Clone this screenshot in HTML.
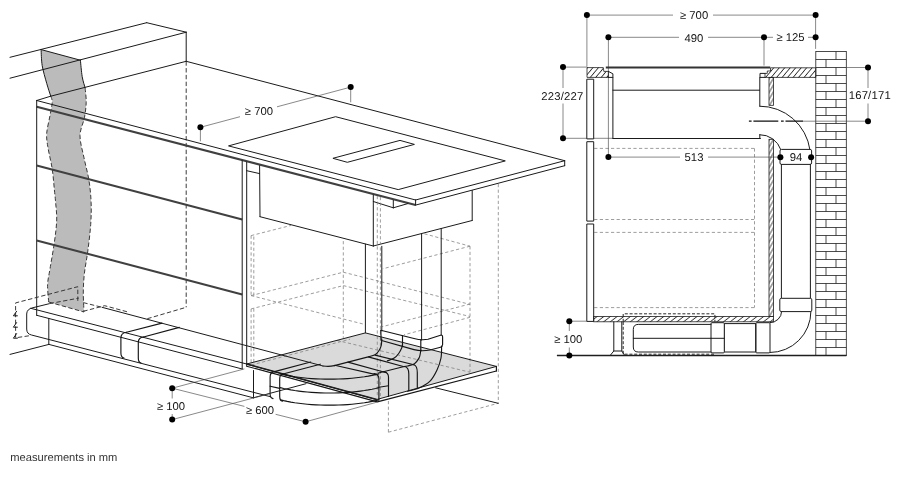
<!DOCTYPE html>
<html><head><meta charset="utf-8"><title>Installation dimensions</title>
<style>
html,body{margin:0;padding:0;background:#fff;}
svg{display:block;font-family:"Liberation Sans",sans-serif;text-rendering:geometricPrecision;}
.k{fill:none;stroke:#1a1a1a;stroke-width:1;stroke-linecap:round;stroke-linejoin:round}
.kw{fill:#fff;stroke:#1a1a1a;stroke-width:1;stroke-linejoin:round}
.kb{fill:none;stroke:#151515;stroke-width:1.15;stroke-linecap:round;stroke-linejoin:round}
.kt{fill:none;stroke:#404040;stroke-width:2.05;stroke-linecap:butt}
.kf{fill:none;stroke:#1e1e1e;stroke-width:1.5}
.g{fill:none;stroke:#484848;stroke-width:.65}
.d{fill:none;stroke:#303030;stroke-width:.95;stroke-dasharray:4.4 2.4}
.dk{fill:none;stroke:#2a2a2a;stroke-width:1;stroke-dasharray:3 1.8}
.dg{fill:none;stroke:#7c7c7c;stroke-width:.75;stroke-dasharray:3.2 2.4}
.wall{fill:#bbbbbb;stroke:none}
.plate{fill:#dadada;stroke:none}
.dot{fill:#000}
.t{fill:#151515}
.h{fill:url(#hatch);stroke:#1e1e1e;stroke-width:.8}
.hb{fill:url(#hatch3);stroke:#1e1e1e;stroke-width:.8}
.hs{fill:url(#hatch2);stroke:#1e1e1e;stroke-width:.8}
.glass{fill:#333;stroke:none}
.cl{fill:none;stroke:#111;stroke-width:1.3;stroke-dasharray:2.7 1.8 24.9 2.7}
.br{fill:none;stroke:#1e1e1e;stroke-width:.8}
</style></head>
<body>
<svg width="900" height="496" viewBox="0 0 900 496" style="will-change:transform">
<defs>
<pattern id="hatch" width="4.2" height="4.2" patternUnits="userSpaceOnUse" patternTransform="rotate(40)"><line x1="2.1" y1="-1" x2="2.1" y2="5.2" stroke="#222" stroke-width=".8"/></pattern>
<pattern id="hatch2" width="3.4" height="3.4" patternUnits="userSpaceOnUse" patternTransform="rotate(30)"><line x1="1.7" y1="-1" x2="1.7" y2="4.4" stroke="#222" stroke-width=".75"/></pattern>
<pattern id="hatch3" width="4.1" height="4.1" patternUnits="userSpaceOnUse" patternTransform="rotate(52)"><line x1="2" y1="-1" x2="2" y2="5.1" stroke="#222" stroke-width=".8"/></pattern>
</defs>
<path class="wall" d="M41.1,49.6 C41.28,52.27 41.27,59.98 42.2,65.6 C43.13,71.22 45.28,78.23 46.7,83.3 C48.12,88.37 49.78,92.85 50.7,96 C51.62,99.15 52.32,98.93 52.2,102.2 C52.08,105.47 50.92,110.42 50,115.6 C49.08,120.78 47.07,128.12 46.7,133.3 C46.33,138.48 46.88,140.77 47.8,146.7 C48.72,152.63 51.1,161.68 52.2,168.9 C53.3,176.12 53.83,184.45 54.4,190 C54.97,195.55 55.22,197.2 55.6,202.2 C55.98,207.2 56.9,213.33 56.7,220 C56.5,226.67 55.52,234.05 54.4,242.2 C53.28,250.35 51.13,261.87 50,268.9 C48.87,275.93 47.82,278.88 47.6,284.4 C47.38,289.92 48.52,299.07 48.7,302 L84,312 L84,312 C83.88,308.67 83.23,298.45 83.3,292 C83.37,285.55 83.65,280.12 84.4,273.3 C85.15,266.48 86.75,259.25 87.8,251.1 C88.85,242.95 90.15,232.55 90.7,224.4 C91.25,216.25 91.4,209.6 91.1,202.2 C90.8,194.8 90.08,187.4 88.9,180 C87.72,172.6 85.48,165.2 84,157.8 C82.52,150.4 79.93,142.27 80,135.6 C80.07,128.93 83.37,123.37 84.4,117.8 C85.43,112.23 86.08,107.2 86.2,102.2 C86.32,97.2 85.77,92.05 85.1,87.8 C84.43,83.55 82.98,81.3 82.2,76.7 C81.42,72.1 80.7,62.95 80.4,60.2 Z"/>
<polygon class="plate" points="246.7,364 365.4,332.9 496.4,366.4 376.8,399.5"/>
<line class="k" x1="10" y1="57.3" x2="146.7" y2="22.7"/>
<line class="k" x1="146.7" y1="22.7" x2="186.2" y2="32.2"/>
<line class="k" x1="10" y1="78.2" x2="186.2" y2="32.2"/>
<line class="k" x1="186.2" y1="32.2" x2="186.2" y2="61.3"/>
<line class="k" x1="186.2" y1="61.3" x2="50.7" y2="96.2"/>
<line class="k" x1="41.1" y1="49.6" x2="80.4" y2="60.2"/>
<path class="k" d="M41.1,49.6 C41.28,52.27 41.27,59.98 42.2,65.6 C43.13,71.22 45.28,78.23 46.7,83.3 C48.12,88.37 50.03,93.88 50.7,96"/>
<path class="k" d="M80.4,60.2 C80.7,62.95 81.42,72.1 82.2,76.7 C82.98,81.3 84.62,85.95 85.1,87.8"/>
<path class="d" d="M50.7,96 C50.95,97.03 52.32,98.93 52.2,102.2 C52.08,105.47 50.92,110.42 50,115.6 C49.08,120.78 47.07,128.12 46.7,133.3 C46.33,138.48 46.88,140.77 47.8,146.7 C48.72,152.63 51.1,161.68 52.2,168.9 C53.3,176.12 53.83,184.45 54.4,190 C54.97,195.55 55.22,197.2 55.6,202.2 C55.98,207.2 56.9,213.33 56.7,220 C56.5,226.67 55.52,234.05 54.4,242.2 C53.28,250.35 51.13,261.87 50,268.9 C48.87,275.93 47.82,278.88 47.6,284.4 C47.38,289.92 48.52,299.07 48.7,302"/>
<path class="d" d="M85.1,87.8 C85.28,90.2 86.32,97.2 86.2,102.2 C86.08,107.2 85.43,112.23 84.4,117.8 C83.37,123.37 80.07,128.93 80,135.6 C79.93,142.27 82.52,150.4 84,157.8 C85.48,165.2 87.72,172.6 88.9,180 C90.08,187.4 90.8,194.8 91.1,202.2 C91.4,209.6 91.25,216.25 90.7,224.4 C90.15,232.55 88.85,242.95 87.8,251.1 C86.75,259.25 85.15,266.48 84.4,273.3 C83.65,280.12 83.37,285.55 83.3,292 C83.23,298.45 83.88,308.67 84,312"/>
<line class="d" x1="48.7" y1="302" x2="84" y2="312"/>
<line class="d" x1="186.2" y1="61.3" x2="186.2" y2="307.3"/>
<line class="k" x1="36.7" y1="100.5" x2="50.7" y2="96.2"/>
<line class="k" x1="186.2" y1="61.3" x2="564.7" y2="160.7"/>
<line class="k" x1="564.7" y1="160.7" x2="415.6" y2="200"/>
<line class="k" x1="415.6" y1="200" x2="36.7" y2="100.5"/>
<line class="kt" x1="36.7" y1="106.7" x2="415.6" y2="205.1"/>
<line class="k" x1="415.6" y1="205.1" x2="564.7" y2="165.7"/>
<line class="k" x1="564.7" y1="160.7" x2="564.7" y2="165.7"/>
<line class="k" x1="415.6" y1="200" x2="415.6" y2="205.1"/>
<line class="k" x1="36.7" y1="100.5" x2="36.7" y2="315.3"/>
<line class="kt" x1="36.7" y1="165.6" x2="242.2" y2="219.6"/>
<line class="kt" x1="36.7" y1="240.4" x2="242.2" y2="294.4"/>
<line class="k" x1="242.2" y1="160.7" x2="242.2" y2="368.7"/>
<line class="k" x1="246.7" y1="162" x2="246.7" y2="366"/>
<line class="k" x1="36.7" y1="315.3" x2="242.2" y2="369"/>
<polygon class="k" points="228.9,145.8 335.6,116.7 505.3,160.9 398.6,189.5"/>
<polygon class="k" points="333.3,158.2 400,140.4 414.4,144.4 347.7,162.2"/>
<line class="g" x1="200.4" y1="127.3" x2="240" y2="116.7"/>
<line class="g" x1="277" y1="106.8" x2="350.7" y2="87.1"/>
<line class="g" x1="200.4" y1="127.3" x2="200.4" y2="141.3"/>
<line class="g" x1="350.7" y1="87.1" x2="350.7" y2="102.3"/>
<circle class="dot" cx="200.4" cy="127.3" r="3"/>
<circle class="dot" cx="350.7" cy="87.1" r="3"/>
<text class="t" x="258.9" y="115.15" font-size="11.3" text-anchor="middle" >≥ 700</text>
<line class="k" x1="259.6" y1="165.6" x2="260" y2="216.7"/>
<line class="k" x1="260" y1="216.7" x2="373.3" y2="246"/>
<line class="k" x1="373.3" y1="195" x2="373.3" y2="246"/>
<line class="k" x1="373.3" y1="246" x2="472.2" y2="220.5"/>
<line class="k" x1="472.2" y1="190.6" x2="472.2" y2="220.5"/>
<line class="k" x1="246.7" y1="170.7" x2="259.6" y2="173.6"/>
<line class="k" x1="373.3" y1="201.5" x2="393.3" y2="207.8"/>
<line class="k" x1="393.3" y1="200.3" x2="393.3" y2="207.8"/>
<line class="k" x1="393.3" y1="207.8" x2="407.8" y2="203.6"/>
<line class="dg" x1="251.1" y1="235.6" x2="251.1" y2="295.6"/>
<line class="dg" x1="253.8" y1="236.5" x2="253.8" y2="296"/>
<line class="dg" x1="251.1" y1="308.9" x2="251.1" y2="363"/>
<line class="dg" x1="253.8" y1="308.5" x2="253.8" y2="363"/>
<line class="dg" x1="251.1" y1="235.6" x2="291.1" y2="225.4"/>
<line class="dg" x1="251.1" y1="295.6" x2="343.3" y2="272.2"/>
<line class="dg" x1="343.3" y1="272.2" x2="470" y2="304.4"/>
<line class="dg" x1="343.3" y1="241.1" x2="343.3" y2="337.8"/>
<line class="dg" x1="251.1" y1="308.9" x2="343.3" y2="285.6"/>
<line class="dg" x1="343.3" y1="285.6" x2="470" y2="316.5"/>
<line class="dg" x1="251.1" y1="295.6" x2="365" y2="324.5"/>
<line class="dg" x1="470" y1="304" x2="382.2" y2="326.7"/>
<line class="dg" x1="470" y1="317.3" x2="404" y2="334.8"/>
<line class="dg" x1="424.4" y1="233.8" x2="470" y2="246.2"/>
<line class="dg" x1="470" y1="246.2" x2="470" y2="372.2"/>
<line class="dg" x1="470" y1="246.2" x2="382.7" y2="268.8"/>
<line class="dg" x1="498.3" y1="184" x2="498.3" y2="403.3"/>
<line class="dg" x1="388.4" y1="401" x2="388.4" y2="432.2"/>
<line class="dg" x1="388.4" y1="432.2" x2="498.3" y2="403.3"/>
<line class="dg" x1="337" y1="340.4" x2="470" y2="372.2"/>
<line class="dg" x1="251.3" y1="365" x2="350" y2="339.2"/>
<line class="dg" x1="377.3" y1="196" x2="377.3" y2="396"/>
<line class="dg" x1="380.4" y1="197" x2="380.4" y2="396"/>
<line class="k" x1="365.4" y1="244.2" x2="365.4" y2="332.9"/>
<line class="k" x1="381.8" y1="246.3" x2="381.8" y2="331"/>
<line class="k" x1="421.6" y1="233.8" x2="421.6" y2="340"/>
<line class="k" x1="441.2" y1="228.7" x2="441.2" y2="334.7"/>
<path class="kb" d="M380.8,330.2 L414,338.5 Q421,340.4 428,339.3 L440.5,335.3 Q442.6,334.7 442.6,337 V344.6 Q442.6,346.6 440.5,347.2 L430,350 Q421,351.6 414,349.6 L381.6,340.5"/>
<line class="kb" x1="380.8" y1="330.2" x2="381.2" y2="340.4"/>
<line class="kb" x1="402.5" y1="335.7" x2="402.5" y2="346.3"/>
<line class="kb" x1="420.8" y1="340.2" x2="420.8" y2="351"/>
<polygon class="k" points="246.7,364 365.4,332.9 496.4,366.4 376.8,399.5"/>
<line class="kf" x1="246.7" y1="364" x2="376.8" y2="399.5"/>
<polyline class="kb" points="246.7,366.2 377.3,401.9 496.4,371"/>
<line class="kb" x1="496.4" y1="366.4" x2="496.4" y2="371"/>
<line class="k" x1="435.6" y1="387.8" x2="498.2" y2="403.3"/>
<path class="kb" d="M381.8,339.1 C381.7,340.18 381.68,343.67 381.2,345.6 C380.72,347.53 379.93,349.18 378.9,350.7 C377.87,352.22 376.78,353.67 375,354.7 C373.22,355.73 369.33,356.53 368.2,356.9 L334.4,365.6"/>
<path class="kb" d="M402.3,345 C402.23,345.42 402.5,346.08 401.9,347.5 C401.3,348.92 399.98,351.73 398.7,353.5 C397.42,355.27 396.08,356.87 394.2,358.1 C392.32,359.33 388.53,360.43 387.4,360.9"/>
<path class="kb" d="M420.8,350 C420.7,350.67 420.5,352.65 420.2,354 C419.9,355.35 419.95,356.48 419,358.1 C418.05,359.72 416.38,362.38 414.5,363.7 C412.62,365.02 409.58,365.5 407.7,366 C405.82,366.5 403.95,366.58 403.2,366.7 L378.4,373"/>
<path class="kb" d="M441.6,346.2 C441.5,348.17 441.77,354.03 441,358 C440.23,361.97 438.83,366.13 437,370 C435.17,373.87 433,378.2 430,381.2 C427,384.2 422.72,386.32 419,388 C415.28,389.68 409.58,390.75 407.7,391.3"/>
<line class="kb" x1="368.2" y1="356.9" x2="403.2" y2="366.5"/>
<line class="kb" x1="334.7" y1="365.3" x2="376" y2="374.6"/>
<line class="kb" x1="347.9" y1="362.1" x2="386.5" y2="372.7"/>
<line class="kb" x1="375.1" y1="355.1" x2="413.9" y2="364.8"/>
<path class="kb" d="M374,373.6 Q378.9,374 378.9,379 V400"/>
<path class="kb" d="M383.5,371.6 Q388.5,372.3 388.5,377 V396.5"/>
<line class="kb" x1="378.9" y1="387.3" x2="388.5" y2="385.8"/>
<path class="kb" d="M404.9,366.5 Q408.8,367.5 408.8,373.9 V390.5"/>
<path class="kb" d="M413.9,364.8 Q417.3,365.8 417.3,372.7 V388.5"/>
<polyline class="kb" points="378.85,373.83 375.52,374.65 372,375.41 368.3,376.11 364.43,376.74 360.41,377.3 356.25,377.8 351.99,378.22 347.63,378.57 343.19,378.84 338.69,379.03 334.16,379.15 329.6,379.19 325.04,379.15 320.51,379.03 316.01,378.84 311.57,378.57 307.21,378.22 302.95,377.8 298.79,377.3 294.77,376.74 290.9,376.11 287.2,375.41 283.68,374.65 280.35,373.83"/>
<polyline class="kb" points="378.85,387.63 375.52,388.45 372,389.21 368.3,389.91 364.43,390.54 360.41,391.1 356.25,391.6 351.99,392.02 347.63,392.37 343.19,392.64 338.69,392.83 334.16,392.95 329.6,392.99 325.04,392.95 320.51,392.83 316.01,392.64 311.57,392.37 307.21,392.02 302.95,391.6 298.79,391.1 294.77,390.54 290.9,389.91 287.2,389.21 283.68,388.45 280.35,387.63"/>
<polyline class="kb" points="378.85,399.83 375.52,400.65 372,401.41 368.3,402.11 364.43,402.74 360.41,403.3 356.25,403.8 351.99,404.22 347.63,404.57 343.19,404.84 338.69,405.03 334.16,405.15 329.6,405.19 325.04,405.15 320.51,405.03 316.01,404.84 311.57,404.57 307.21,404.22 302.95,403.8 298.79,403.3 294.77,402.74 290.9,402.11 287.2,401.41 283.68,400.65 280.35,399.83"/>
<path class="kb" d="M323,366 L326,366.3 Q330.2,366.6 334.4,365.6"/>
<path class="kb" d="M274.5,371.6 Q270.1,372 270.1,377 V394 Q270.1,398 273,398.6"/>
<path class="kb" d="M283,374 Q279.7,374.3 279.7,379 V396.5 Q279.7,400.6 282.5,401.2"/>
<line class="kb" x1="270.1" y1="386.2" x2="279.7" y2="388.4"/>
<line class="kb" x1="274.5" y1="371.6" x2="310.7" y2="362"/>
<line class="kb" x1="283" y1="374" x2="320.3" y2="364.2"/>
<line class="k" x1="30.7" y1="308.3" x2="246.7" y2="364"/>
<line class="k" x1="102" y1="307.3" x2="323" y2="366"/>
<path class="k" d="M49.3,303.7 L33,307.7 Q26.7,309 26.7,314 V329 Q26.7,334 31.5,335 L270,396.6"/>
<line class="k" x1="48.8" y1="318.5" x2="48.8" y2="344.4"/>
<path class="kb" d="M126.5,332.3 Q120.9,333 120.9,338 V353 Q120.9,357.3 124,358"/>
<path class="kb" d="M143.5,337 Q138.3,337.5 138.3,342.5 V358 Q138.3,362.5 141,363"/>
<line class="kb" x1="126.5" y1="332.3" x2="162" y2="323.1"/>
<line class="kb" x1="143.5" y1="337" x2="179.3" y2="327.4"/>
<line class="k" x1="10" y1="354.4" x2="48.9" y2="344.4"/>
<line class="k" x1="48.9" y1="344.4" x2="253.3" y2="397.8"/>
<line class="k" x1="253.5" y1="370.5" x2="253.5" y2="397.8"/>
<line class="k" x1="253.3" y1="397.8" x2="306" y2="383.7"/>
<polyline class="d" points="28.9,335.8 15.6,337.8 15.6,302.9 77.8,286.7 77.8,303.3"/>
<polyline class="d" points="83.3,311.3 104.7,305.7 128,312"/>
<line class="d" x1="147.3" y1="318.7" x2="186.2" y2="307.3"/>
<path class="k" d="M16.6,311.3 L13.4,315.8 L17.4,315.8 M16.6,322.6 L13.4,327.2 L17.4,327.2 M16.6,333.6 L13.4,338.2 L17.4,338.2"/>
<line class="d" x1="49.7" y1="303.6" x2="78.8" y2="298.1"/>
<line class="d" x1="83.3" y1="302.6" x2="102" y2="307.3"/>
<line class="g" x1="172.2" y1="388.2" x2="244.4" y2="368.9"/>
<line class="g" x1="172.2" y1="388.2" x2="244.4" y2="406.4"/>
<line class="g" x1="275.6" y1="414.3" x2="305.6" y2="421.8"/>
<line class="g" x1="172.2" y1="419.6" x2="271.1" y2="393.3"/>
<line class="g" x1="305.6" y1="421.8" x2="376.8" y2="402.2"/>
<line class="g" x1="172.2" y1="388.2" x2="172.2" y2="398.5"/>
<line class="g" x1="172.2" y1="414" x2="172.2" y2="419.6"/>
<circle class="dot" cx="172.2" cy="388.2" r="3"/>
<circle class="dot" cx="172.2" cy="419.6" r="3"/>
<circle class="dot" cx="305.6" cy="421.8" r="3"/>
<text class="t" x="171" y="410.05" font-size="11.3" text-anchor="middle" >≥ 100</text>
<text class="t" x="260" y="414.25" font-size="11.3" text-anchor="middle" >≥ 600</text>
<text x="10.3" y="461.2" font-size="11.15" fill="#333">measurements in mm</text>
<rect class="br" x="815.8" y="51.5" width="30.5" height="304.1"/>
<line class="br" x1="836" y1="51.5" x2="836" y2="59.5"/>
<line class="br" x1="815.8" y1="59.5" x2="846.3" y2="59.5"/>
<line class="br" x1="826" y1="59.5" x2="826" y2="67.5"/>
<line class="br" x1="815.8" y1="67.5" x2="846.3" y2="67.5"/>
<line class="br" x1="836" y1="67.5" x2="836" y2="75.5"/>
<line class="br" x1="815.8" y1="75.5" x2="846.3" y2="75.5"/>
<line class="br" x1="826" y1="75.5" x2="826" y2="83.5"/>
<line class="br" x1="815.8" y1="83.5" x2="846.3" y2="83.5"/>
<line class="br" x1="836" y1="83.5" x2="836" y2="91.5"/>
<line class="br" x1="815.8" y1="91.5" x2="846.3" y2="91.5"/>
<line class="br" x1="826" y1="91.5" x2="826" y2="99.5"/>
<line class="br" x1="815.8" y1="99.5" x2="846.3" y2="99.5"/>
<line class="br" x1="836" y1="99.5" x2="836" y2="107.5"/>
<line class="br" x1="815.8" y1="107.5" x2="846.3" y2="107.5"/>
<line class="br" x1="826" y1="107.5" x2="826" y2="115.5"/>
<line class="br" x1="815.8" y1="115.5" x2="846.3" y2="115.5"/>
<line class="br" x1="836" y1="115.5" x2="836" y2="123.5"/>
<line class="br" x1="815.8" y1="123.5" x2="846.3" y2="123.5"/>
<line class="br" x1="826" y1="123.5" x2="826" y2="131.5"/>
<line class="br" x1="815.8" y1="131.5" x2="846.3" y2="131.5"/>
<line class="br" x1="836" y1="131.5" x2="836" y2="139.5"/>
<line class="br" x1="815.8" y1="139.5" x2="846.3" y2="139.5"/>
<line class="br" x1="826" y1="139.5" x2="826" y2="147.5"/>
<line class="br" x1="815.8" y1="147.5" x2="846.3" y2="147.5"/>
<line class="br" x1="836" y1="147.5" x2="836" y2="155.5"/>
<line class="br" x1="815.8" y1="155.5" x2="846.3" y2="155.5"/>
<line class="br" x1="826" y1="155.5" x2="826" y2="163.5"/>
<line class="br" x1="815.8" y1="163.5" x2="846.3" y2="163.5"/>
<line class="br" x1="836" y1="163.5" x2="836" y2="171.5"/>
<line class="br" x1="815.8" y1="171.5" x2="846.3" y2="171.5"/>
<line class="br" x1="826" y1="171.5" x2="826" y2="179.5"/>
<line class="br" x1="815.8" y1="179.5" x2="846.3" y2="179.5"/>
<line class="br" x1="836" y1="179.5" x2="836" y2="187.5"/>
<line class="br" x1="815.8" y1="187.5" x2="846.3" y2="187.5"/>
<line class="br" x1="826" y1="187.5" x2="826" y2="195.5"/>
<line class="br" x1="815.8" y1="195.5" x2="846.3" y2="195.5"/>
<line class="br" x1="836" y1="195.5" x2="836" y2="203.5"/>
<line class="br" x1="815.8" y1="203.5" x2="846.3" y2="203.5"/>
<line class="br" x1="826" y1="203.5" x2="826" y2="211.5"/>
<line class="br" x1="815.8" y1="211.5" x2="846.3" y2="211.5"/>
<line class="br" x1="836" y1="211.5" x2="836" y2="219.5"/>
<line class="br" x1="815.8" y1="219.5" x2="846.3" y2="219.5"/>
<line class="br" x1="826" y1="219.5" x2="826" y2="227.5"/>
<line class="br" x1="815.8" y1="227.5" x2="846.3" y2="227.5"/>
<line class="br" x1="836" y1="227.5" x2="836" y2="235.5"/>
<line class="br" x1="815.8" y1="235.5" x2="846.3" y2="235.5"/>
<line class="br" x1="826" y1="235.5" x2="826" y2="243.5"/>
<line class="br" x1="815.8" y1="243.5" x2="846.3" y2="243.5"/>
<line class="br" x1="836" y1="243.5" x2="836" y2="251.5"/>
<line class="br" x1="815.8" y1="251.5" x2="846.3" y2="251.5"/>
<line class="br" x1="826" y1="251.5" x2="826" y2="259.5"/>
<line class="br" x1="815.8" y1="259.5" x2="846.3" y2="259.5"/>
<line class="br" x1="836" y1="259.5" x2="836" y2="267.5"/>
<line class="br" x1="815.8" y1="267.5" x2="846.3" y2="267.5"/>
<line class="br" x1="826" y1="267.5" x2="826" y2="275.5"/>
<line class="br" x1="815.8" y1="275.5" x2="846.3" y2="275.5"/>
<line class="br" x1="836" y1="275.5" x2="836" y2="283.5"/>
<line class="br" x1="815.8" y1="283.5" x2="846.3" y2="283.5"/>
<line class="br" x1="826" y1="283.5" x2="826" y2="291.5"/>
<line class="br" x1="815.8" y1="291.5" x2="846.3" y2="291.5"/>
<line class="br" x1="836" y1="291.5" x2="836" y2="299.5"/>
<line class="br" x1="815.8" y1="299.5" x2="846.3" y2="299.5"/>
<line class="br" x1="826" y1="299.5" x2="826" y2="307.5"/>
<line class="br" x1="815.8" y1="307.5" x2="846.3" y2="307.5"/>
<line class="br" x1="836" y1="307.5" x2="836" y2="315.5"/>
<line class="br" x1="815.8" y1="315.5" x2="846.3" y2="315.5"/>
<line class="br" x1="826" y1="315.5" x2="826" y2="323.5"/>
<line class="br" x1="815.8" y1="323.5" x2="846.3" y2="323.5"/>
<line class="br" x1="836" y1="323.5" x2="836" y2="331.5"/>
<line class="br" x1="815.8" y1="331.5" x2="846.3" y2="331.5"/>
<line class="br" x1="826" y1="331.5" x2="826" y2="339.5"/>
<line class="br" x1="815.8" y1="339.5" x2="846.3" y2="339.5"/>
<line class="br" x1="836" y1="339.5" x2="836" y2="347.5"/>
<line class="br" x1="815.8" y1="347.5" x2="846.3" y2="347.5"/>
<line class="br" x1="826" y1="347.5" x2="826" y2="355.5"/>
<line class="dg" x1="594.2" y1="148.4" x2="754.5" y2="148.4"/>
<line class="dg" x1="754.5" y1="148.4" x2="754.5" y2="307.6"/>
<line class="dg" x1="594.2" y1="219.5" x2="754.5" y2="219.5"/>
<line class="dg" x1="594.2" y1="232.4" x2="754.5" y2="232.4"/>
<line class="dg" x1="594.2" y1="307.6" x2="754.5" y2="307.6"/>
<line class="g" x1="586.9" y1="15.1" x2="586.9" y2="66.7"/>
<line class="g" x1="608.4" y1="37.3" x2="608.4" y2="157"/>
<line class="g" x1="764" y1="37.3" x2="764" y2="65.6"/>
<line class="g" x1="815.6" y1="15.1" x2="815.6" y2="48.9"/>
<line class="g" x1="586.9" y1="15.1" x2="673" y2="15.1"/>
<line class="g" x1="713" y1="15.1" x2="815.6" y2="15.1"/>
<line class="g" x1="608.4" y1="37.3" x2="679" y2="37.3"/>
<line class="g" x1="708" y1="37.3" x2="764" y2="37.3"/>
<line class="g" x1="764" y1="37.3" x2="773" y2="37.3"/>
<line class="g" x1="808" y1="37.3" x2="815.6" y2="37.3"/>
<line class="g" x1="563" y1="67.1" x2="563" y2="88"/>
<line class="g" x1="563" y1="103.5" x2="563" y2="138.3"/>
<line class="g" x1="563" y1="67.1" x2="586.9" y2="67.1"/>
<line class="g" x1="563" y1="138.3" x2="612.9" y2="138.3"/>
<line class="g" x1="868" y1="67.5" x2="868" y2="88"/>
<line class="g" x1="868" y1="103.5" x2="868" y2="121.2"/>
<line class="g" x1="846.3" y1="67.5" x2="868" y2="67.5"/>
<line class="g" x1="803" y1="121.2" x2="868" y2="121.2"/>
<line class="g" x1="608.4" y1="157.1" x2="680" y2="157.1"/>
<line class="g" x1="708" y1="157.1" x2="788" y2="157.1"/>
<line class="g" x1="804" y1="157.1" x2="811.1" y2="157.1"/>
<line class="g" x1="569.3" y1="321.2" x2="569.3" y2="331"/>
<line class="g" x1="569.3" y1="347.5" x2="569.3" y2="355.6"/>
<line class="g" x1="569.3" y1="321.2" x2="586.8" y2="321.2"/>
<polygon class="h" points="587,67.6 603.3,67.6 603.8,71.4 608.4,71.4 608.4,77.4 587,77.4"/>
<polyline class="k" points="608.4,71.4 612.9,73.8 612.9,77.4 608.4,77.4"/>
<polygon class="h" points="770.5,67.8 815.8,67.8 815.8,77.4 765,77.4 765,73.4 767.3,73.4 767.3,71 770.5,71"/>
<polyline class="k" points="765,73.4 760,73.4 760,77.4 765,77.4"/>
<rect class="glass" x="605.8" y="66.5" width="164.4" height="2"/>
<rect class="kw" x="586.8" y="79.2" width="6.9" height="59.7"/>
<rect class="kw" x="586.8" y="141.7" width="6.9" height="79.4"/>
<rect class="kw" x="586.8" y="224" width="6.9" height="97.4"/>
<line class="k" x1="612.9" y1="77.4" x2="612.9" y2="138.4"/>
<line class="k" x1="612.9" y1="90.2" x2="759.6" y2="90.2"/>
<line class="k" x1="612.9" y1="138.5" x2="760.4" y2="138.5"/>
<line class="k" x1="759.8" y1="77.4" x2="759.8" y2="106.2"/>
<line class="k" x1="759.8" y1="134.7" x2="759.8" y2="138.5"/>
<rect class="hs" x="769" y="77.4" width="4.4" height="27.9"/>
<rect class="hs" x="769" y="139.3" width="4.4" height="177.1"/>
<path class="k" d="M759.8,106.2 A50.4,50.4 0 0 1 809.9,149.6"/>
<path class="k" d="M759.8,134.7 A21.9,21.9 0 0 1 780.8,149.6"/>
<rect class="kw" x="780" y="149.4" width="31.6" height="15" rx="1.5"/>
<line class="k" x1="781.4" y1="164.4" x2="781.4" y2="298.3"/>
<line class="k" x1="810.4" y1="164.4" x2="810.4" y2="298.3"/>
<rect class="kw" x="779.8" y="298.3" width="32" height="13.3" rx="1.5"/>
<path class="k" d="M810.9,311.6 A40.9,40.9 0 0 1 770,352.5"/>
<path class="k" d="M781.6,311.6 A11.6,11.1 0 0 1 770,322.7"/>
<rect class="kw" x="755.8" y="322.7" width="14.2" height="30.2" rx="1"/>
<rect class="k" x="724.5" y="323.6" width="31.3" height="28.4"/>
<rect class="kw" x="711" y="322.7" width="13.3" height="30.2" rx="1"/>
<line class="k" x1="711" y1="338.3" x2="724.3" y2="338.3"/>
<path class="k" d="M711,324.4 H638.3 Q633.3,324.4 633.3,329.4 V347 Q633.3,352 638.3,352 H711"/>
<line class="k" x1="633.3" y1="338.3" x2="711" y2="338.3"/>
<rect class="hb" x="593.7" y="316.4" width="179.9" height="5.4"/>
<path class="k" d="M613.8,321.8 V351 L610.2,355.4 M621.8,321.8 V351 L624.6,355.4 M613.8,351 H621.8"/>
<path class="dk" d="M623.2,321.8 V313.8 H714.9 V321.8"/>
<path class="dk" d="M623.2,322 V354.2 H714.9"/>
<line class="kf" x1="556.9" y1="355.6" x2="846.4" y2="355.6"/>
<line class="cl" x1="748.9" y1="121.2" x2="803" y2="121.2"/>
<circle class="dot" cx="586.9" cy="15.1" r="3"/>
<circle class="dot" cx="815.6" cy="15.1" r="3"/>
<circle class="dot" cx="608.4" cy="37.3" r="3"/>
<circle class="dot" cx="764" cy="37.3" r="3"/>
<circle class="dot" cx="815.6" cy="37.3" r="3"/>
<circle class="dot" cx="563" cy="67.1" r="3"/>
<circle class="dot" cx="563" cy="138.3" r="3"/>
<circle class="dot" cx="868" cy="67.5" r="3"/>
<circle class="dot" cx="868" cy="121.2" r="3"/>
<circle class="dot" cx="608.4" cy="157.1" r="3"/>
<circle class="dot" cx="780.4" cy="157.2" r="3"/>
<circle class="dot" cx="811.1" cy="157.2" r="3"/>
<circle class="dot" cx="569.3" cy="321.2" r="3"/>
<circle class="dot" cx="569.3" cy="355.6" r="3"/>
<text class="t" x="694.1" y="19.25" font-size="11.3" text-anchor="middle" >≥ 700</text>
<text class="t" x="693.9" y="41.55" font-size="11.3" text-anchor="middle" >490</text>
<text class="t" x="790.5" y="41.45" font-size="11.3" text-anchor="middle" >≥ 125</text>
<text class="t" x="562.4" y="99.65" font-size="11.3" text-anchor="middle" letter-spacing=".2">223/227</text>
<text class="t" x="869.8" y="99.45" font-size="11.3" text-anchor="middle" letter-spacing=".2">167/171</text>
<text class="t" x="694" y="161.35" font-size="11.3" text-anchor="middle" >513</text>
<text class="t" x="796" y="161.35" font-size="11.3" text-anchor="middle" >94</text>
<text class="t" x="568.3" y="343.35" font-size="11.3" text-anchor="middle" >≥ 100</text>
</svg>
</body></html>
